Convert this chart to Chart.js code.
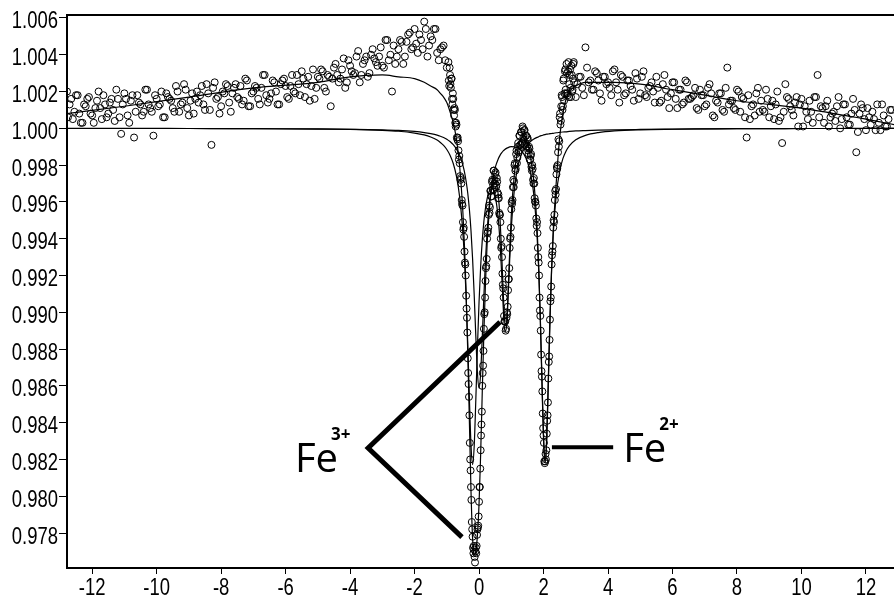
<!DOCTYPE html>
<html lang="en">
<head>
<meta charset="UTF-8" />
<title>Mössbauer spectrum Fe2+ / Fe3+</title>
<script src="https://cdn.jsdelivr.net/npm/chart.js@4.4.0/dist/chart.umd.min.js"></script>
<style>
  body { margin: 0; padding: 0; background: #fff; }
  .container { width: 894px; height: 596px; position: relative; }
</style>
</head>
<body>
<div class="container"><canvas id="spectrum"></canvas></div>
<script>
// measured points, velocity in mm/s, relative transmission
const velLeft = [-12.78,
  -12.7,-12.6,-12.5,-12.4,-12.3,-12.2,-12.1,-12.0,-11.9,-11.8,
  -11.7,-11.6,-11.5,-11.4,-11.3,-11.2,-11.1,-11.0,-10.9,-10.8,
  -10.7,-10.6,-10.5,-10.4,-10.3,-10.2,-10.1,-10.0,-9.9,-9.8,
  -9.7,-9.6,-9.5,-9.4,-9.3,-9.2,-9.1,-9.0,-8.9,-8.8,
  -8.7,-8.6,-8.5,-8.4,-8.3,-8.2,-8.1,-8.0,-7.9,-7.8,
  -7.7,-7.6,-7.5,-7.4,-7.3,-7.2,-7.1,-7.0,-6.9,-6.8,
  -6.7,-6.6,-6.5,-6.4,-6.3,-6.2,-6.1,-6.0,-5.9,-5.8,
  -5.7,-5.6,-5.5,-5.4,-5.3,-5.2,-5.1,-5.0,-4.9,-4.8,
  -4.7,-4.6,-4.5,-4.4,-4.3,-4.2,-4.1,-4.0,-3.9,-3.8,
  -3.7,-3.6,-3.5,-3.4,-3.3,-3.2,-3.1,-3.0,-2.9,-2.8,
  -2.7,-2.6,-2.5,-2.4,-2.3,-2.2,-2.1,-2.0,-1.9,-1.8,
  -1.7,-1.6,-1.5,-1.4,-1.3,-1.2,-1.1,-1.0]
const countsLeft = [1.0020,
  1.0013,1.0005,1.0018,1.0008,1.0003,1.0012,1.0017,1.0007,1.0011,1.0020,
  1.0005,1.0013,1.0008,1.0016,1.0004,1.0016,0.9997,1.0019,1.0007,1.0015,
  0.9995,1.0018,1.0013,1.0009,1.0021,1.0011,0.9996,1.0016,1.0013,1.0006,
  1.0019,1.0016,1.0011,1.0023,1.0009,1.0014,1.0021,1.0007,1.0019,1.0016,
  1.0014,1.0023,1.0010,1.0019,0.9991,1.0025,1.0017,1.0012,1.0019,1.0023,
  1.0009,1.0022,1.0017,1.0023,1.0015,1.0026,1.0012,1.0020,1.0022,1.0013,
  1.0029,1.0018,1.0016,1.0026,1.0020,1.0013,1.0026,1.0023,1.0016,1.0029,
  1.0019,1.0024,1.0031,1.0017,1.0028,1.0023,1.0016,1.0028,1.0032,1.0022,
  1.0029,1.0012,1.0033,1.0029,1.0027,1.0038,1.0025,1.0034,1.0029,1.0039,
  1.0025,1.0035,1.0039,1.0030,1.0043,1.0036,1.0039,1.0034,1.0048,1.0037,
  1.0020,1.0035,1.0043,1.0047,1.0039,1.0051,1.0043,1.0054,1.0041,1.0048,
  1.0058,1.0039,1.0050,1.0054,1.0041,1.0043,1.0045,1.0033]

// second (folded) half of the spectrum, between the channels above
const velLeft2 = [
  -12.75,-12.65,-12.55,-12.45,-12.35,-12.25,-12.15,-12.05,-11.95,-11.85,
  -11.75,-11.65,-11.55,-11.45,-11.35,-11.25,-11.15,-11.05,-10.95,-10.85,
  -10.75,-10.65,-10.55,-10.45,-10.35,-10.25,-10.15,-10.05,-9.95,-9.85,
  -9.75,-9.65,-9.55,-9.45,-9.35,-9.25,-9.15,-9.05,-8.95,-8.85,
  -8.75,-8.65,-8.55,-8.45,-8.35,-8.25,-8.15,-8.05,-7.95,-7.85,
  -7.75,-7.65,-7.55,-7.45,-7.35,-7.25,-7.15,-7.05,-6.95,-6.85,
  -6.75,-6.65,-6.55,-6.45,-6.35,-6.25,-6.15,-6.05,-5.95,-5.85,
  -5.75,-5.65,-5.55,-5.45,-5.35,-5.25,-5.15,-5.05,-4.95,-4.85,
  -4.75,-4.65,-4.55,-4.45,-4.35,-4.25,-4.15,-4.05,-3.95,-3.85,
  -3.75,-3.65,-3.55,-3.45,-3.35,-3.25,-3.15,-3.05,-2.95,-2.85,
  -2.75,-2.65,-2.55,-2.45,-2.35,-2.25,-2.15,-2.05,-1.95,-1.85,
  -1.75,-1.65,-1.55,-1.45,-1.35,-1.25,-1.15,-1.05]
const countsLeft2 = [
  1.0006,1.0016,1.0009,1.0018,1.0003,1.0013,1.0016,1.0008,1.0003,1.0015,
  1.0011,1.0018,1.0006,1.0014,1.0010,1.0021,1.0006,1.0013,1.0016,1.0003,
  1.0018,1.0009,1.0014,1.0007,1.0021,1.0013,1.0009,1.0018,1.0012,1.0020,
  1.0006,1.0017,1.0015,1.0009,1.0020,1.0013,1.0024,1.0011,1.0015,1.0008,
  1.0020,1.0018,1.0013,1.0024,1.0010,1.0022,1.0016,1.0008,1.0020,1.0024,
  1.0014,1.0019,1.0024,1.0016,1.0013,1.0027,1.0012,1.0019,1.0023,1.0016,
  1.0022,1.0029,1.0014,1.0019,1.0025,1.0013,1.0024,1.0027,1.0017,1.0023,
  1.0020,1.0029,1.0018,1.0027,1.0024,1.0015,1.0032,1.0022,1.0027,1.0031,
  1.0020,1.0028,1.0027,1.0035,1.0025,1.0032,1.0022,1.0037,1.0031,1.0030,
  1.0042,1.0029,1.0037,1.0028,1.0040,1.0038,1.0034,1.0044,1.0033,1.0048,
  1.0040,1.0045,1.0039,1.0048,1.0035,1.0047,1.0052,1.0044,1.0046,1.0051,
  1.0043,1.0054,1.0045,1.0048,1.0054,1.0037,1.0044,1.0037]

const velCentre = [
  -0.95,-0.925,-0.9,-0.875,-0.85,-0.825,-0.8,-0.775,-0.75,-0.725,
  -0.7,-0.675,-0.65,-0.625,-0.6,-0.575,-0.55,-0.525,-0.5,-0.475,
  -0.45,-0.425,-0.4,-0.375,-0.35,-0.325,-0.3,-0.275,-0.25,-0.225,
  -0.2,-0.175,-0.15,-0.125,-0.1,-0.075,-0.05,-0.025,0,0.025,
  0.05,0.075,0.1,0.125,0.15,0.175,0.2,0.225,0.25,0.275,
  0.3,0.325,0.35,0.375,0.4,0.425,0.45,0.475,0.5,0.525,
  0.55,0.575,0.6,0.625,0.65,0.675,0.7,0.725,0.75,0.775,
  0.8,0.825,0.85,0.875,0.9,0.925,0.95,0.975,1,1.025,
  1.05,1.075,1.1,1.125,1.15,1.175,1.2,1.225,1.25,1.275,
  1.3,1.325,1.35,1.375,1.4,1.425,1.45,1.475,1.5,1.525,
  1.55,1.575,1.6,1.625,1.65,1.675,1.7,1.725,1.75,1.775,
  1.8,1.825,1.85,1.875,1.9,1.925,1.95,1.975,2,2.025,
  2.05,2.075,2.1,2.125,2.15,2.175,2.2,2.225,2.25,2.275,
  2.3,2.325,2.35,2.375,2.4,2.425,2.45,2.475,2.5,2.525,
  2.55,2.575,2.6,2.625,2.65,2.675,2.7,2.725,2.75,2.775,
  2.8,2.825,2.85,2.875,2.9,2.925,2.95]
const countsCentre = [
  1.0036,1.0023,1.0029,1.0022,1.0027,1.0013,1.0016,1.0007,1.0010,1.0001,
  1.0002,0.9994,0.9993,0.9983,0.9981,0.9972,0.9970,0.9959,0.9949,0.9946,
  0.9933,0.9926,0.9909,0.9897,0.9875,0.9861,0.9844,0.9820,0.9805,0.9786,
  0.9778,0.9769,0.9771,0.9764,0.9772,0.9773,0.9782,0.9784,0.9797,0.9805,
  0.9825,0.9839,0.9860,0.9871,0.9891,0.9900,0.9917,0.9925,0.9940,0.9944,
  0.9953,0.9954,0.9966,0.9963,0.9971,0.9967,0.9977,0.9972,0.9975,0.9968,
  0.9973,0.9965,0.9964,0.9954,0.9953,0.9940,0.9936,0.9921,0.9913,0.9898,
  0.9895,0.9890,0.9897,0.9899,0.9912,0.9918,0.9935,0.9941,0.9956,0.9959,
  0.9968,0.9968,0.9980,0.9977,0.9986,0.9981,0.9990,0.9987,0.9996,0.9991,
  0.9998,0.9992,1.0001,0.9995,0.9999,0.9991,0.9996,0.9990,0.9995,0.9988,
  0.9990,0.9983,0.9985,0.9979,0.9980,0.9972,0.9973,0.9962,0.9960,0.9951,
  0.9949,0.9935,0.9927,0.9908,0.9898,0.9877,0.9865,0.9845,0.9833,0.9819,
  0.9819,0.9820,0.9834,0.9844,0.9864,0.9876,0.9896,0.9908,0.9926,0.9933,
  0.9946,0.9949,0.9961,0.9964,0.9975,0.9978,0.9987,0.9990,1.0006,1.0002,
  1.0012,1.0017,1.0012,1.0027,1.0019,1.0032,1.0019,1.0030,1.0018,1.0036,
  1.0024,1.0032,1.0017,1.0029,1.0021,1.0035,1.0025]

const velCentre2 = [
  -0.9375,-0.9125,-0.8875,-0.8625,-0.8375,-0.8125,-0.7875,-0.7625,-0.7375,-0.7125,
  -0.6875,-0.6625,-0.6375,-0.6125,-0.5875,-0.5625,-0.5375,-0.5125,-0.4875,-0.4625,
  -0.4375,-0.4125,-0.3875,-0.3625,-0.3375,-0.3125,-0.2875,-0.2625,-0.2375,-0.2125,
  -0.1875,-0.1625,-0.1375,-0.1125,-0.0875,-0.0625,-0.0375,-0.0125,0.0125,0.0375,
  0.0625,0.0875,0.1125,0.1375,0.1625,0.1875,0.2125,0.2375,0.2625,0.2875,
  0.3125,0.3375,0.3625,0.3875,0.4125,0.4375,0.4625,0.4875,0.5125,0.5375,
  0.5625,0.5875,0.6125,0.6375,0.6625,0.6875,0.7125,0.7375,0.7625,0.7875,
  0.8125,0.8375,0.8625,0.8875,0.9125,0.9375,0.9625,0.9875,1.0125,1.0375,
  1.0625,1.0875,1.1125,1.1375,1.1625,1.1875,1.2125,1.2375,1.2625,1.2875,
  1.3125,1.3375,1.3625,1.3875,1.4125,1.4375,1.4625,1.4875,1.5125,1.5375,
  1.5625,1.5875,1.6125,1.6375,1.6625,1.6875,1.7125,1.7375,1.7625,1.7875,
  1.8125,1.8375,1.8625,1.8875,1.9125,1.9375,1.9625,1.9875,2.0125,2.0375,
  2.0625,2.0875,2.1125,2.1375,2.1625,2.1875,2.2125,2.2375,2.2625,2.2875,
  2.3125,2.3375,2.3625,2.3875,2.4125,2.4375,2.4625,2.4875,2.5125,2.5375,
  2.5625,2.5875,2.6125,2.6375,2.6625,2.6875,2.7125,2.7375,2.7625,2.7875,
  2.8125,2.8375,2.8625,2.8875,2.9125,2.9375]
const countsCentre2 = [
  1.0026,1.0033,1.0024,1.0027,1.0016,1.0019,1.0010,1.0011,1.0003,1.0003,
  0.9995,0.9995,0.9988,0.9985,0.9974,0.9973,0.9961,0.9958,0.9945,0.9941,
  0.9927,0.9920,0.9902,0.9889,0.9867,0.9854,0.9829,0.9814,0.9798,0.9782,
  0.9772,0.9773,0.9767,0.9770,0.9769,0.9779,0.9783,0.9789,0.9805,0.9815,
  0.9833,0.9846,0.9867,0.9879,0.9899,0.9908,0.9924,0.9929,0.9943,0.9946,
  0.9958,0.9957,0.9966,0.9963,0.9972,0.9969,0.9977,0.9970,0.9976,0.9969,
  0.9971,0.9962,0.9962,0.9953,0.9949,0.9935,0.9930,0.9915,0.9908,0.9895,
  0.9895,0.9891,0.9900,0.9903,0.9918,0.9924,0.9940,0.9946,0.9960,0.9961,
  0.9972,0.9971,0.9981,0.9978,0.9988,0.9984,0.9992,0.9988,0.9996,0.9991,
  0.9998,0.9992,1.0000,0.9994,0.9999,0.9992,0.9996,0.9990,0.9994,0.9986,
  0.9989,0.9983,0.9986,0.9977,0.9978,0.9970,0.9970,0.9960,0.9958,0.9947,
  0.9943,0.9930,0.9920,0.9901,0.9890,0.9868,0.9857,0.9837,0.9829,0.9818,
  0.9823,0.9825,0.9841,0.9851,0.9873,0.9885,0.9906,0.9914,0.9931,0.9936,
  0.9950,0.9953,0.9966,0.9967,0.9979,0.9980,0.9994,0.9993,1.0008,1.0004,
  1.0018,1.0010,1.0026,1.0015,1.0031,1.0021,1.0035,1.0019,1.0031,1.0017,
  1.0029,1.0022,1.0034,1.0020,1.0027,1.0036]

const velRight = [
  3.0,3.1,3.2,3.3,3.4,3.5,3.6,3.7,3.8,3.9,
  4.0,4.1,4.2,4.3,4.4,4.5,4.6,4.7,4.8,4.9,
  5.0,5.1,5.2,5.3,5.4,5.5,5.6,5.7,5.8,5.9,
  6.0,6.1,6.2,6.3,6.4,6.5,6.6,6.7,6.8,6.9,
  7.0,7.1,7.2,7.3,7.4,7.5,7.6,7.7,7.8,7.9,
  8.0,8.1,8.2,8.3,8.4,8.5,8.6,8.7,8.8,8.9,
  9.0,9.1,9.2,9.3,9.4,9.5,9.6,9.7,9.8,9.9,
  10.0,10.1,10.2,10.3,10.4,10.5,10.6,10.7,10.8,10.9,
  11.0,11.1,11.2,11.3,11.4,11.5,11.6,11.7,11.8,11.9,
  12.0,12.1,12.2,12.3,12.4,12.5,12.6,12.7,12.8]
const countsRight = [
  1.0017,1.0028,1.0022,1.0044,1.0025,1.0021,1.0031,1.0026,1.0015,1.0028,
  1.0025,1.0018,1.0032,1.0021,1.0029,1.0018,1.0026,1.0023,1.0015,1.0027,
  1.0019,1.0031,1.0017,1.0023,1.0020,1.0028,1.0014,1.0024,1.0021,1.0011,
  1.0025,1.0016,1.0021,1.0013,1.0026,1.0016,1.0017,1.0022,1.0010,1.0018,
  1.0012,1.0022,1.0019,1.0006,1.0014,1.0019,1.0009,1.0033,1.0015,1.0011,
  1.0021,1.0009,1.0016,0.9995,1.0005,1.0013,1.0019,1.0009,1.0010,1.0021,
  1.0006,1.0015,1.0013,1.0004,0.9992,1.0024,1.0016,1.0010,1.0014,1.0001,
  1.0016,1.0012,1.0005,1.0009,1.0017,1.0029,1.0012,1.0003,1.0015,1.0006,
  1.0009,1.0012,1.0000,1.0013,1.0006,1.0002,1.0016,0.9987,1.0008,1.0011,
  0.9999,1.0006,1.0009,0.9999,1.0003,1.0013,1.0001,1.0005,1.0010]

const velRight2 = [
  3.05,3.15,3.25,3.35,3.45,3.55,3.65,3.75,3.85,3.95,
  4.05,4.15,4.25,4.35,4.45,4.55,4.65,4.75,4.85,4.95,
  5.05,5.15,5.25,5.35,5.45,5.55,5.65,5.75,5.85,5.95,
  6.05,6.15,6.25,6.35,6.45,6.55,6.65,6.75,6.85,6.95,
  7.05,7.15,7.25,7.35,7.45,7.55,7.65,7.75,7.85,7.95,
  8.05,8.15,8.25,8.35,8.45,8.55,8.65,8.75,8.85,8.95,
  9.05,9.15,9.25,9.35,9.45,9.55,9.65,9.75,9.85,9.95,
  10.05,10.15,10.25,10.35,10.45,10.55,10.65,10.75,10.85,10.95,
  11.05,11.15,11.25,11.35,11.45,11.55,11.65,11.75,11.85,11.95,
  12.05,12.15,12.25,12.35,12.45,12.55,12.65,12.75]
const countsRight2 = [
  1.0024,1.0028,1.0018,1.0033,1.0026,1.0021,1.0030,1.0019,1.0028,1.0024,
  1.0022,1.0031,1.0025,1.0014,1.0028,1.0019,1.0026,1.0021,1.0030,1.0016,
  1.0028,1.0018,1.0022,1.0025,1.0014,1.0022,1.0015,1.0029,1.0017,1.0019,
  1.0025,1.0011,1.0021,1.0014,1.0025,1.0016,1.0018,1.0011,1.0021,1.0018,
  1.0013,1.0024,1.0007,1.0015,1.0019,1.0010,1.0022,1.0013,1.0015,1.0010,
  1.0020,1.0017,1.0006,1.0018,1.0012,1.0007,1.0022,1.0015,1.0009,1.0016,
  1.0012,1.0005,1.0020,1.0006,1.0009,1.0017,1.0012,1.0007,1.0017,1.0013,
  1.0001,1.0009,1.0015,1.0003,1.0017,1.0006,1.0011,1.0012,1.0001,1.0008,
  1.0004,1.0017,1.0005,1.0013,1.0002,1.0008,1.0010,0.9998,1.0013,1.0005,
  1.0011,1.0002,1.0005,1.0013,0.9999,1.0007,1.0001,1.0010]

// fitted curves, sampled at curveVel
const curveVel = [-12.78,-11,-9,-7,-5,-4,-3,-2.5,-2,-1.7,-1.5,-1.3,-1.2,-1.1,-1.0,-0.9,-0.8,-0.7,-0.6,-0.5,
  -0.45,-0.4,-0.35,-0.3,-0.25,-0.2,-0.15,-0.1,-0.05,0,0.05,0.1,0.15,0.2,0.25,0.3,0.35,0.4,0.5,0.6,
  0.65,0.7,0.75,0.8,0.85,0.9,0.95,1.0,1.1,1.2,1.3,1.4,1.5,1.6,1.7,1.8,1.85,1.9,1.95,2.0,
  2.05,2.1,2.15,2.2,2.25,2.3,2.4,2.5,2.6,2.7,2.8,3.0,3.3,3.7,4.2,5,6,7,8,9,
  10,11,12,12.87]
const fitTotal = [1.0008,1.0012,1.0017,1.0022,1.0025,1.0028,1.0029,1.0028,1.0027,1.0025,1.0023,1.0021,1.0019,1.0017,1.0014,1.0009,1.0003,0.9994,0.9979,0.9954,
  0.9935,0.9910,0.9878,0.9841,0.9803,0.9777,0.9768,0.9770,0.9779,0.9796,0.9823,0.9857,0.9889,0.9916,0.9937,0.9951,0.9962,0.9968,0.9973,0.9963,
  0.9951,0.9933,0.9911,0.9894,0.9894,0.9910,0.9933,0.9953,0.9976,0.9988,0.9994,0.9996,0.9992,0.9984,0.9971,0.9946,0.9925,0.9896,0.9862,0.9831,
  0.9818,0.9831,0.9862,0.9895,0.9923,0.9944,0.9972,0.9995,1.0008,1.0016,1.0020,1.0023,1.0025,1.0025,1.0025,1.0024,1.0021,1.0018,1.0015,1.0013,
  1.0011,1.0008,1.0005,1.0002]
const fitFe3 = [1.0,1.0,0.99999,0.99998,0.99996,0.99994,0.99989,0.99984,0.99974,0.99964,0.99953,0.99936,0.99923,0.99907,0.99885,0.99854,0.99809,0.99739,0.99625,0.99429,
  0.9928,0.9908,0.98826,0.98536,0.9828,0.98172,0.98275,0.98525,0.98809,0.99057,0.99249,0.99391,0.99494,0.99567,0.99617,0.99651,0.99668,0.99672,0.99633,0.99501,
  0.9938,0.99215,0.99026,0.98895,0.98919,0.99082,0.99284,0.99456,0.99675,0.99789,0.99851,0.99889,0.99913,0.9993,0.99942,0.99951,0.99954,0.99959,0.99961,0.99964,
  0.99966,0.99968,0.99969,0.99971,0.99972,0.99973,0.99976,0.99978,0.9998,0.99981,0.99983,0.99986,0.99988,0.9999,0.99992,0.99994,0.99996,0.99997,0.99998,0.99998,
  0.99999,0.99999,1.0,1.0]
const fitFe2 = [0.99999,0.99999,0.99999,0.99998,0.99997,0.99995,0.99992,0.99989,0.99983,0.99977,0.99971,0.99963,0.99957,0.9995,0.99941,0.99928,0.99911,0.99887,0.99853,0.99799,
  0.99761,0.99711,0.99647,0.9956,0.99444,0.9929,0.99093,0.98869,0.98671,0.98588,0.9867,0.98866,0.9909,0.99285,0.99438,0.99552,0.99638,0.99701,0.99786,0.99836,
  0.99853,0.99866,0.99877,0.99885,0.99891,0.99895,0.99899,0.999,0.99899,0.99893,0.9988,0.99857,0.99818,0.99753,0.99637,0.99414,0.9923,0.98973,0.98648,0.9833,
  0.98187,0.98331,0.9865,0.98977,0.99235,0.9942,0.99646,0.99766,0.99835,0.99877,0.99905,0.99938,0.99962,0.99977,0.99986,0.99992,0.99995,0.99997,0.99998,0.99998,
  0.99999,0.99999,0.99999,1.0]

const xTickValues = [-12, -10, -8, -6, -4, -2, 0, 2, 4, 6, 8, 10, 12]
const yTickValues = [0.978, 0.980, 0.982, 0.984, 0.986, 0.988, 0.990, 0.992, 0.994, 0.996, 0.998, 1.000, 1.002, 1.004, 1.006]

// label anchors in data units (velocity, transmission)
const fe3Bracket = [[0.65, 0.98947], [-3.44, 0.98262], [-0.53, 0.97778]]
const fe2Bar = [[2.26, 0.98267], [4.16, 0.98267]]
const fe3Label = [-5.71, 0.98132]
const fe2Label = [4.47, 0.98186]

const toPoints = (xs, ys) => xs.map((v, i) => ({ x: v, y: ys[i] }))
const measured = toPoints(velLeft, countsLeft)
  .concat(toPoints(velLeft2, countsLeft2))
  .concat(toPoints(velCentre, countsCentre))
  .concat(toPoints(velCentre2, countsCentre2))
  .concat(toPoints(velRight, countsRight))
  .concat(toPoints(velRight2, countsRight2))

const tickFont = '24px "Liberation Sans", Arial, sans-serif'
const squeeze = 0.77

const curveStyle = {
  showLine: true,
  pointRadius: 0,
  borderColor: '#000000',
  borderWidth: 1.2,
  cubicInterpolationMode: 'monotone',
}

// narrow tick labels, as in the original plotting program
const drawNarrow = (ctx, text, x, y, align) => {
  ctx.save()
  ctx.translate(x, y)
  ctx.scale(squeeze, 1)
  ctx.textAlign = align
  ctx.fillText(text, 0, 0)
  ctx.restore()
}

const labels = {
  id: 'labels',
  afterDraw(chart) {
    const { ctx, chartArea, scales } = chart
    const px = (p) => [scales.x.getPixelForValue(p[0]), scales.y.getPixelForValue(p[1])]
    ctx.save()
    ctx.strokeStyle = '#000'
    ctx.fillStyle = '#000'
    // frame line on top
    ctx.lineWidth = 2
    ctx.beginPath()
    ctx.moveTo(chartArea.left, chartArea.top)
    ctx.lineTo(chartArea.right, chartArea.top)
    ctx.stroke()

    ctx.font = tickFont
    ctx.textBaseline = 'alphabetic'
    yTickValues.forEach((v) => {
      drawNarrow(ctx, v.toFixed(3), chartArea.left - 9, scales.y.getPixelForValue(v) + 10.5, 'right')
    })
    xTickValues.forEach((v) => {
      drawNarrow(ctx, String(v), scales.x.getPixelForValue(v), chartArea.bottom + 27, 'center')
    })

    ctx.lineWidth = 5
    ctx.lineJoin = 'miter'
    ctx.beginPath()
    fe3Bracket.forEach((p, i) => {
      const [x, y] = px(p)
      if (i === 0) ctx.moveTo(x, y)
      else ctx.lineTo(x, y)
    })
    ctx.stroke()

    ctx.lineWidth = 4
    ctx.beginPath()
    ctx.moveTo(...px(fe2Bar[0]))
    ctx.lineTo(...px(fe2Bar[1]))
    ctx.stroke()

    ctx.textAlign = 'left'
    const drawIon = (pos, charge) => {
      const [x, y] = px(pos)
      ctx.font = '40px "Open Sans"'
      ctx.fillText('Fe', x, y)
      const w = ctx.measureText('Fe').width
      ctx.font = 'bold 17px "Open Sans"'
      ctx.fillText(charge, x + w - 7, y - 32)
    }
    drawIon(fe3Label, '3+')
    drawIon(fe2Label, '2+')
    ctx.restore()
  },
}

new Chart(document.getElementById('spectrum'), {
  type: 'scatter',
  data: {
    datasets: [
      Object.assign({ data: toPoints(curveVel, fitTotal) }, curveStyle),
      Object.assign({ data: toPoints(curveVel, fitFe3) }, curveStyle),
      Object.assign({ data: toPoints(curveVel, fitFe2) }, curveStyle),
      {
        data: measured,
        pointStyle: 'circle',
        pointRadius: 3.5,
        pointBorderWidth: 1,
        pointBorderColor: '#000000',
        pointBackgroundColor: 'rgba(0,0,0,0)',
      },
    ],
  },
  options: {
    responsive: true,
    maintainAspectRatio: false,
    animation: false,
    layout: { autoPadding: false, padding: { top: 15, left: 0, right: 0, bottom: 0 } },
    plugins: {
      legend: { display: false },
      tooltip: { enabled: false },
    },
    scales: {
      x: {
        type: 'linear',
        min: -12.78,
        max: 12.87,
        afterBuildTicks: (scale) => { scale.ticks = xTickValues.map((v) => ({ value: v })) },
        afterFit: (scale) => { scale.height = 28 },
        grid: { drawOnChartArea: false, tickLength: 6, tickColor: '#000', tickWidth: 1 },
        border: { color: '#000', width: 2 },
        ticks: { display: false },
      },
      y: {
        type: 'linear',
        min: 0.9761,
        max: 1.00616,
        afterBuildTicks: (scale) => { scale.ticks = yTickValues.map((v) => ({ value: v })) },
        afterFit: (scale) => { scale.width = 67 },
        grid: { drawOnChartArea: false, tickLength: 8, tickColor: '#000', tickWidth: 1 },
        border: { color: '#000', width: 2 },
        ticks: { display: false },
      },
    },
  },
  plugins: [labels],
})
</script>
</body>
</html>
